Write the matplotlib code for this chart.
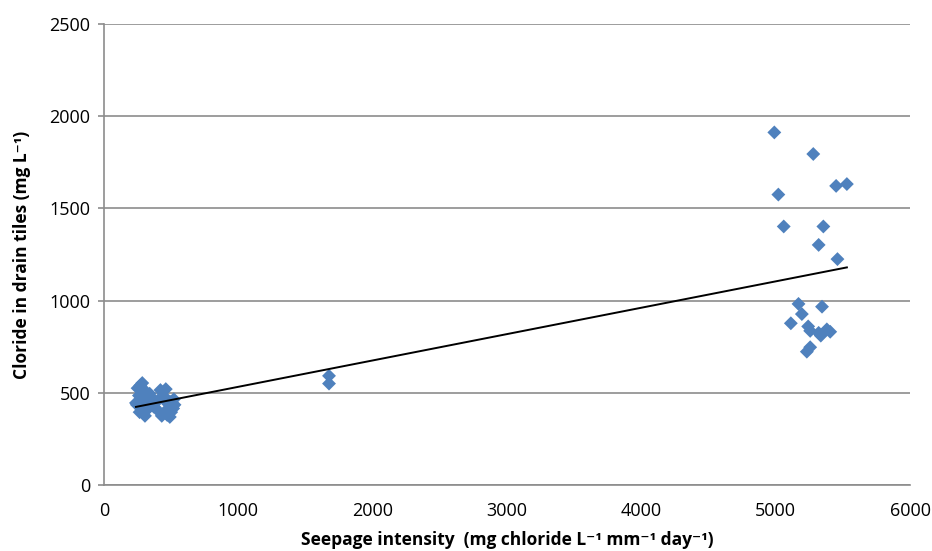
import numpy as np
import matplotlib.pyplot as plt

plt.rcParams['font.family'] = ['Open Sans', 'DejaVu Sans']

# ── Data ─────────────────────────────────────────────────────────────────
low_x = [250, 270, 285, 300, 260, 238, 245, 275, 290, 305, 320, 340, 350, 370,
         400, 420, 430, 445, 460, 470, 480, 490, 500, 510, 520, 525, 515, 380,
         410, 455, 300, 330, 265, 495, 470]
low_y = [525, 540, 553, 515, 485, 445, 435, 415, 395, 375, 465, 495, 435, 425,
         405, 515, 375, 390, 520, 445, 415, 369, 395, 425, 465, 435, 415, 455,
         465, 475, 465, 415, 395, 450, 380]

mid_x = [1675, 1675]
mid_y = [592, 550]

high_x = [4990, 5280, 5020, 5450, 5530, 5060, 5355, 5320, 5460, 5170, 5345,
          5195, 5113, 5242, 5257, 5381, 5406, 5336, 5257, 5232, 5320]
high_y = [1912, 1795, 1575, 1622, 1632, 1402, 1402, 1302, 1225, 982, 967,
          927, 877, 860, 836, 844, 831, 810, 747, 723, 825]

x = np.array(low_x + mid_x + high_x, dtype=float)
y = np.array(low_y + mid_y + high_y, dtype=float)

# linear trendline
slope, icept = np.polyfit(x, y, 1)
xl = np.array([x.min(), x.max()])

fig = plt.figure(figsize=(9.32, 5.51), dpi=100)
ax = fig.add_axes([104 / 932, 1 - 485 / 551, 806 / 932, 461 / 551])

ax.scatter(x, y, marker='D', s=50, color='#4F81BD', edgecolors='none', zorder=3)
ax.plot(xl, slope * xl + icept, color='black', lw=1.4, zorder=4)

ax.set_xlim(0, 6000)
ax.set_ylim(0, 2500)
ax.set_xticks(range(0, 6001, 1000))
ax.set_yticks(range(0, 2501, 500))
ax.grid(axis='y', color='#8c8c8c', lw=1.2)
ax.set_axisbelow(True)
for s in ['top', 'right']:
    ax.spines[s].set_visible(False)
for s in ['left', 'bottom']:
    ax.spines[s].set_color('#8c8c8c')
    ax.spines[s].set_linewidth(1.2)
ax.tick_params(axis='both', colors='#8c8c8c', labelcolor='black', labelsize=13,
               width=1.2)
ax.tick_params(axis='x', length=0, pad=12)
ax.tick_params(axis='y', length=4, pad=6)

ax.set_xlabel('Seepage intensity  (mg chloride L\u207b\u00b9 mm\u207b\u00b9 day\u207b\u00b9)',
              fontsize=12.5, fontweight='bold', labelpad=8)
ax.set_ylabel('Cloride in drain tiles (mg L\u207b\u00b9)', fontsize=12.5,
              fontweight='bold', labelpad=13)

plt.savefig('out.png', dpi=100)
